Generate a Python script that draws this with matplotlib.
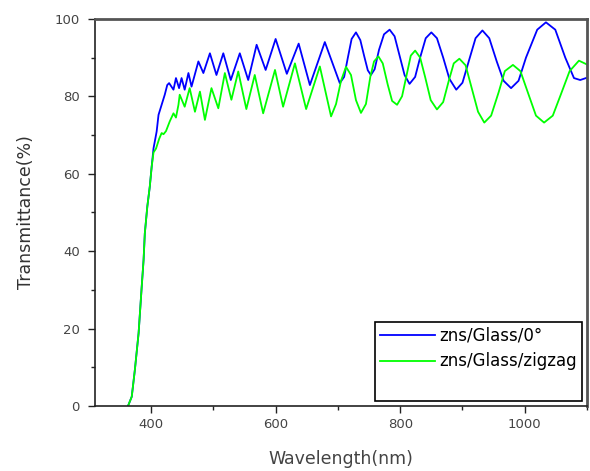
import matplotlib
matplotlib.use("Agg")
import matplotlib.pyplot as plt
from matplotlib.ticker import MultipleLocator

plt.rcParams['font.family'] = ['DejaVu Sans']

# zns/Glass/0deg  (extrema + a few shoulder points)
wl_0 = [363, 369, 374, 380, 385, 388, 390, 394, 398, 401, 404, 406, 409, 412, 417,
        422, 426, 429, 436, 440, 445, 449, 454, 460, 465, 476, 484, 494.5, 505, 516,
        528, 542.5, 556, 569.5, 584, 600, 618, 637, 655, 679, 703,
        710, 716, 722, 729, 736, 742, 748, 753, 759, 766, 774, 783, 791, 799, 807,
        815, 824, 832, 841, 850, 859, 869, 879, 890, 900, 910, 921, 932, 943, 955,
        966, 978, 990, 1002, 1020, 1034, 1049, 1065, 1079, 1089, 1100]
t_0 = [0, 2.4, 9.3, 18.8, 30.8, 37.7, 44.6, 51.5, 56.7, 61.8, 66.6, 68.3, 70.9, 75.2, 77.8,
       80.4, 82.9, 83.4, 81.7, 84.7, 82.1, 84.7, 81.7, 86.0, 82.5, 89.0, 86.0, 91.1, 85.5, 91.1,
       84.2, 91.1, 84.2, 93.3, 86.8, 94.8, 85.8, 93.6, 82.9, 94.0, 83.4,
       85.0, 90.0, 94.8, 96.5, 94.5, 90.5, 86.7, 85.5, 87.0, 92.0, 96.0, 97.2, 95.5, 90.5, 85.5,
       83.2, 85.0, 90.0, 95.0, 96.5, 95.0, 90.0, 84.5, 81.7, 83.5, 89.0, 95.0, 97.0, 95.0, 89.0,
       84.0, 82.1, 84.0, 90.0, 97.2, 99.1, 97.2, 90.0, 84.7, 84.2, 84.8]

# zns/Glass/zigzag
wl_zz = [363, 369, 374, 380, 385, 388, 390, 394, 398, 401, 404, 408, 413, 417, 420,
         424, 430, 436, 440, 444, 446, 454, 462, 470.5, 478.5, 486.5, 497, 508, 518.5,
         529, 540, 553, 566.5, 580, 599, 612, 631, 649, 671, 689,
         697, 705, 713, 721, 729, 737, 745, 752, 758, 765, 772, 780, 787, 795, 803,
         811, 817, 824, 832, 840, 849, 859, 869, 878, 886, 895, 905, 915, 925, 935,
         946, 958, 968, 981, 993, 1006, 1018, 1031, 1045, 1058, 1072, 1087, 1100]
t_zz = [0, 2.4, 9.3, 18.8, 30.8, 37.7, 44.6, 51.5, 56.7, 61.8, 65.5, 66.5, 69.0, 70.5, 70.2,
        71.0, 73.5, 75.6, 74.5, 77.8, 80.4, 77.3, 82.1, 76.0, 81.2, 73.9, 82.1, 76.9, 86.0,
        79.1, 86.4, 76.7, 85.5, 75.6, 86.8, 77.3, 88.5, 76.7, 87.7, 74.8,
        78.0, 84.0, 87.6, 85.5, 79.0, 75.7, 78.0, 85.0, 89.0, 90.3, 88.5, 83.0, 78.8, 77.8, 80.0,
        86.0, 90.5, 91.8, 90.0, 85.0, 79.0, 76.6, 78.5, 84.0, 88.5, 89.7, 88.0, 82.0, 76.0, 73.2,
        75.0, 81.0, 86.5, 88.1, 86.5, 80.5, 75.0, 73.2, 75.0, 80.5, 86.5, 89.2, 88.2]

fig = plt.figure(figsize=(5.9, 4.71), dpi=100)
ax = fig.add_axes([0.161, 0.138, 0.834, 0.822])

ax.plot(wl_0, t_0, color='#0000ff', lw=1.3, label='zns/Glass/0°')
ax.plot(wl_zz, t_zz, color='#00ff00', lw=1.3, label='zns/Glass/zigzag')
ax.plot([], [], color='none', label=' ')

ax.set_xlim(310, 1100)
ax.set_ylim(0, 100)
ax.xaxis.set_major_locator(MultipleLocator(200))
ax.xaxis.set_minor_locator(MultipleLocator(100))
ax.yaxis.set_major_locator(MultipleLocator(20))
ax.yaxis.set_minor_locator(MultipleLocator(10))
ax.tick_params(which='major', direction='out', length=5, width=1, labelsize=9.5,
               colors='#222222', labelcolor='#444444')
ax.tick_params(axis='y', which='major', pad=6)
ax.tick_params(which='minor', direction='out', length=3, width=1, colors='#222222')

for s in ['left', 'bottom']:
    ax.spines[s].set_linewidth(1.2)
    ax.spines[s].set_color('#222222')
for s in ['top', 'right']:
    ax.spines[s].set_linewidth(2)
    ax.spines[s].set_color('#555555')

ax.set_xlabel('Wavelength(nm)', fontsize=12.5, color='#444444', labelpad=14)
ax.set_ylabel('Transmittance(%)', fontsize=12.5, color='#333333', labelpad=14)

leg = ax.legend(loc='lower right', bbox_to_anchor=(0.99, 0.013), fontsize=12,
                fancybox=False, edgecolor='black', handlelength=3.3, handletextpad=0.3,
                borderpad=0.3, labelspacing=0.45, framealpha=1, borderaxespad=0)
leg.get_frame().set_linewidth(1.2)

fig.savefig('out.png', dpi=100)
